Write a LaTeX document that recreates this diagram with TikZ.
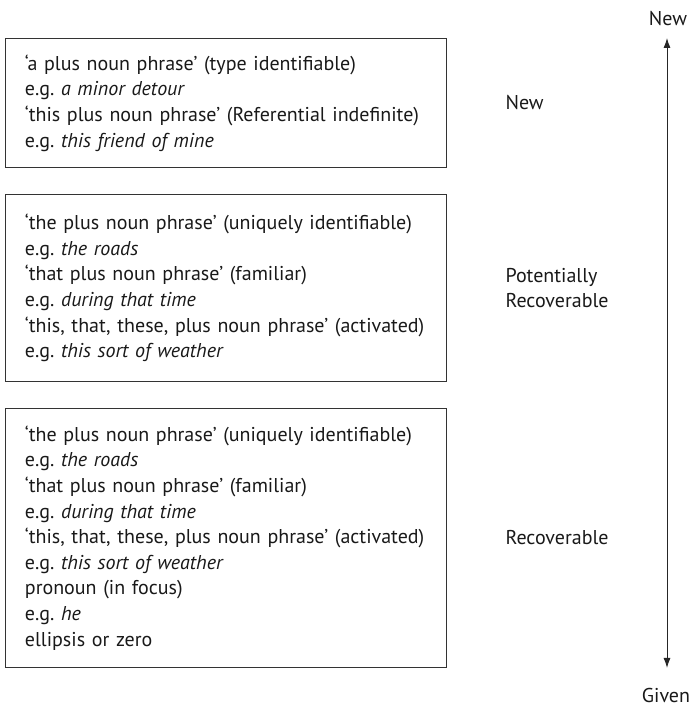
\documentclass[tikz,border=0pt]{standalone}
\usepackage{fontspec}
\setmainfont{PT Sans}
\frenchspacing
\usetikzlibrary{positioning,arrows.meta}

\tikzset{
  box/.style={draw=black!80, line width=0.9pt, anchor=north west,
    minimum width=441pt, text width=402pt, inner xsep=19pt, inner ysep=0pt,
    align=left, font=\fontsize{20}{25.6}\selectfont, text=black!90},
  level/.style={anchor=west, align=left,
    font=\fontsize{20}{24.5}\selectfont, text=black!90},
  scale label/.style={font=\fontsize{20}{22}\selectfont, text=black!90},
}

\begin{document}
\begin{tikzpicture}[x=1pt, y=-1pt]
  \useasboundingbox (0,0) rectangle (695,708);

  \node[box, minimum height=129pt] (newbox) at (5,38) {%
    `a plus noun phrase' (type identifiable)\\
    e.g. \textit{a minor detour}\\
    `this plus noun phrase' (Referential indefinite)\\
    e.g. \textit{this friend of mine}};
  \node[box, minimum height=187pt] (potbox) at (5,194) {%
    `the plus noun phrase' (uniquely identifiable)\\
    e.g. \textit{the roads}\\
    `that plus noun phrase' (familiar)\\
    e.g. \textit{during that time}\\
    `this, that, these, plus noun phrase' (activated)\\
    e.g. \textit{this sort of weather}};
  \node[box, minimum height=259pt] (recbox) at (5,408) {%
    `the plus noun phrase' (uniquely identifiable)\\
    e.g. \textit{the roads}\\
    `that plus noun phrase' (familiar)\\
    e.g. \textit{during that time}\\
    `this, that, these, plus noun phrase' (activated)\\
    e.g. \textit{this sort of weather}\\
    pronoun (in focus)\\
    e.g. \textit{he}\\
    ellipsis or zero};

  \node[level] (newlab) at (newbox.east -| 502,0) {New};
  \node[level] (potlab) at (potbox.east -| 502,0) {Potentially\\Recoverable};
  \node[level] (reclab) at (recbox.east -| 502,0) {Recoverable};

  % given--new scale
  \coordinate (top) at (newbox.north -| 667,0);
  \coordinate (bottom) at (recbox.south -| 667,0);
  \node[scale label] (newend) at (668,19) {New};
  \node[scale label] (givenend) at (666,695) {Given};
  \draw[black!85, line width=0.9pt, {Latex[length=10pt,width=7pt]}-{Latex[length=10pt,width=7pt]}] (bottom) -- (top);
\end{tikzpicture}
\end{document}
